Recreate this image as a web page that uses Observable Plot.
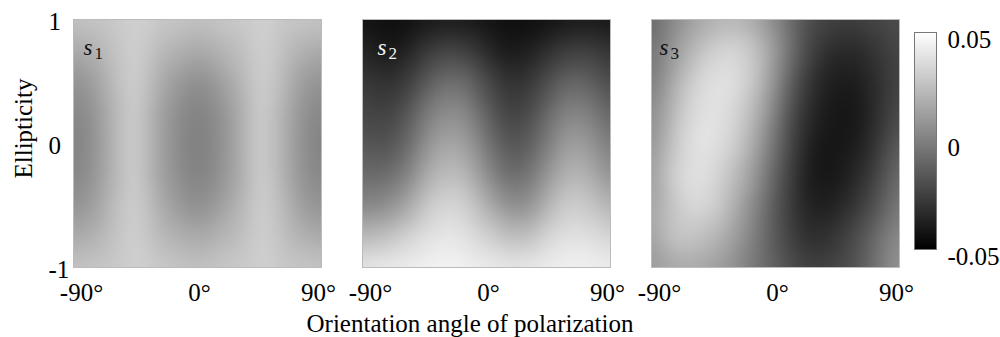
<!DOCTYPE html>
<html><head><meta charset="utf-8">
<script src="https://cdn.jsdelivr.net/npm/d3@7"></script>
<script src="https://cdn.jsdelivr.net/npm/@observablehq/plot@0.6"></script>
<style>
body{margin:0;background:#fff;}
#wrap{position:relative;width:1000px;height:337px;overflow:hidden;font-family:'Liberation Serif','Times New Roman',serif;color:#000;}
#wrap svg{position:absolute;top:0;left:0;}
.ttl{position:absolute;font-size:25px;line-height:25px;text-align:center;white-space:nowrap;}
</style></head><body><div id="wrap"></div>
<script>
// ---- data ----
const panels = ["s1", "s2", "s3"];
const orientation = [-90, -75, -60, -45, -30, -15, 0, 15, 30, 45, 60, 75, 90];
const ellipticity = [1, 0.75, 0.5, 0.25, 0, -0.25, -0.5, -0.75, -1];
const s1 = [
  [0.027,0.028,0.029,0.032,0.029,0.028,0.026,0.028,0.029,0.032,0.029,0.028,0.027],
  [0.016,0.020,0.027,0.032,0.024,0.020,0.016,0.020,0.024,0.032,0.027,0.020,0.016],
  [0.007,0.012,0.025,0.032,0.020,0.011,0.005,0.011,0.020,0.032,0.025,0.012,0.007],
  [0.002,0.008,0.022,0.032,0.016,0.006,0.000,0.006,0.016,0.032,0.022,0.008,0.002],
  [0.000,0.007,0.022,0.032,0.016,0.005,-0.001,0.005,0.016,0.032,0.022,0.007,0.000],
  [0.002,0.008,0.022,0.032,0.016,0.006,0.000,0.006,0.016,0.032,0.022,0.008,0.002],
  [0.007,0.012,0.025,0.032,0.020,0.011,0.005,0.011,0.020,0.032,0.025,0.012,0.007],
  [0.016,0.020,0.027,0.032,0.024,0.020,0.016,0.020,0.024,0.032,0.027,0.020,0.016],
  [0.027,0.028,0.029,0.032,0.029,0.028,0.026,0.028,0.029,0.032,0.029,0.028,0.027]
];
const s2 = [
  [-0.043,-0.045,-0.044,-0.041,-0.040,-0.041,-0.043,-0.045,-0.045,-0.043,-0.041,-0.041,-0.042],
  [-0.034,-0.041,-0.038,-0.028,-0.022,-0.025,-0.034,-0.041,-0.038,-0.031,-0.025,-0.025,-0.031],
  [-0.027,-0.031,-0.028,-0.016,-0.006,-0.008,-0.021,-0.031,-0.029,-0.019,-0.009,-0.012,-0.022],
  [-0.022,-0.025,-0.019,-0.003,0.006,0.004,-0.012,-0.025,-0.022,-0.008,0.003,0.000,-0.012],
  [-0.016,-0.019,-0.012,0.006,0.016,0.013,-0.003,-0.017,-0.015,0.000,0.013,0.010,-0.003],
  [-0.008,-0.009,-0.002,0.016,0.025,0.022,0.006,-0.008,-0.006,0.010,0.022,0.019,0.006],
  [0.003,0.004,0.013,0.028,0.035,0.032,0.019,0.006,0.006,0.022,0.032,0.028,0.019],
  [0.022,0.025,0.032,0.038,0.041,0.039,0.032,0.025,0.025,0.035,0.039,0.038,0.032],
  [0.041,0.043,0.044,0.045,0.046,0.045,0.043,0.041,0.042,0.044,0.045,0.044,0.043]
];
const s3 = [
  [-0.010,0.003,0.013,0.019,0.022,0.016,0.003,-0.012,-0.022,-0.025,-0.025,-0.022,-0.019],
  [-0.006,0.010,0.022,0.032,0.035,0.028,0.010,-0.012,-0.028,-0.034,-0.034,-0.028,-0.022],
  [-0.003,0.016,0.032,0.038,0.038,0.028,0.006,-0.019,-0.034,-0.039,-0.039,-0.031,-0.022],
  [0.003,0.022,0.036,0.039,0.035,0.022,0.000,-0.025,-0.037,-0.042,-0.041,-0.031,-0.019],
  [0.006,0.027,0.039,0.039,0.032,0.016,-0.006,-0.028,-0.041,-0.042,-0.039,-0.028,-0.012],
  [0.010,0.032,0.039,0.036,0.025,0.010,-0.012,-0.031,-0.042,-0.041,-0.034,-0.022,-0.006],
  [0.013,0.028,0.036,0.033,0.019,0.003,-0.016,-0.031,-0.039,-0.036,-0.028,-0.016,0.000],
  [0.013,0.028,0.028,0.022,0.013,0.000,-0.016,-0.028,-0.033,-0.028,-0.019,-0.006,0.006],
  [0.010,0.016,0.016,0.013,0.006,-0.003,-0.012,-0.022,-0.025,-0.022,-0.016,-0.003,0.010]
];
const xTicks = [-90, 0, 90];
const yTicks = [-1, 0, 1];
const cbarDomain = [-0.05, 0.05];
const cbarTicks = [-0.05, 0, 0.05];
const xTitle = "Orientation angle of polarization";
const yTitle = "Ellipticity";

// ---- build table ----
const grids = {s1, s2, s3};
const points = panels.flatMap(p => grids[p].flatMap((row, i) =>
  row.map((v, j) => ({panel: p, x: orientation[j], y: ellipticity[i], v}))));

const font = "'Liberation Serif', 'Times New Roman', serif";
const baseStyle = {fontFamily: font, fontSize: "25px", color: "#000", background: "transparent", overflow: "visible"};
const color = {type: "linear", domain: cbarDomain, range: ["#000", "#fff"]};

function panelLabel(p, dx, fill) {
  const d = [{panel: p, s: "s", n: p.slice(1)}];
  return [
    Plot.text(d, {fx: "panel", text: "s", frameAnchor: "top-left", textAnchor: "start", dx: dx, dy: 19, fontSize: 23, fontStyle: "italic", fill}),
    Plot.text(d, {fx: "panel", text: "n", frameAnchor: "top-left", textAnchor: "start", dx: dx + 11, dy: 27, fontSize: 17, fill})
  ];
}

const main = Plot.plot({
  width: 1000, height: 337,
  marginLeft: 72, marginRight: 101, marginTop: 19, marginBottom: 70,
  style: baseStyle,
  fx: {domain: panels, paddingInner: 0.143, paddingOuter: 0, axis: null, label: null},
  x: {domain: [-90, 90]},
  y: {domain: [-1, 1]},
  color,
  marks: [
    Plot.raster(points, {fx: "panel", x: "x", y: "y", fill: "v", x1: -90, x2: 90, y1: -1, y2: 1, interpolate: "barycentric", blur: 8}),
    Plot.frame({stroke: "#bbb"}),
    Plot.axisY(yTicks, {tickSize: 0, tickPadding: 25, textAnchor: "start", dy: 2, tickFormat: d => String(d), label: null}),
    Plot.axisX([xTicks[0]], {tickSize: 0, tickPadding: 16, dx: 8, tickFormat: d => d + "°", label: null}),
    Plot.axisX([xTicks[1]], {tickSize: 0, tickPadding: 16, dx: 2, tickFormat: d => d + "°", label: null}),
    Plot.axisX([xTicks[2]], {tickSize: 0, tickPadding: 16, dx: -3, tickFormat: d => d + "°", label: null}),
    ...panelLabel("s1", 10, "#111"),
    ...panelLabel("s2", 15, "#f4f4f4"),
    ...panelLabel("s3", 8, "#111")
  ]
});

const cbar = Plot.plot({
  width: 100, height: 337,
  marginLeft: 14, marginRight: 64, marginTop: 32, marginBottom: 88,
  style: baseStyle,
  x: {domain: [0, 1], axis: null},
  y: {domain: cbarDomain},
  color,
  marks: [
    Plot.raster({fill: (x, y) => y, x1: 0, x2: 1, y1: cbarDomain[0], y2: cbarDomain[1]}),
    Plot.frame({stroke: "#777"}),
    Plot.axisY(cbarTicks, {anchor: "right", tickSize: 0, tickPadding: 11, textAnchor: "start", dy: 7, tickFormat: d => String(d), label: null})
  ]
});
cbar.style.left = "900px";

const wrap = document.getElementById("wrap");
wrap.appendChild(main);
wrap.appendChild(cbar);

const xt = document.createElement("div");
xt.className = "ttl";
xt.textContent = xTitle;
Object.assign(xt.style, {left: "270px", width: "400px", top: "311px"});
wrap.appendChild(xt);

const yt = document.createElement("div");
yt.className = "ttl";
yt.textContent = yTitle;
Object.assign(yt.style, {left: "-77px", width: "200px", top: "116px", transform: "rotate(-90deg)", transformOrigin: "100px 12.5px"});
wrap.appendChild(yt);
</script></body></html>
